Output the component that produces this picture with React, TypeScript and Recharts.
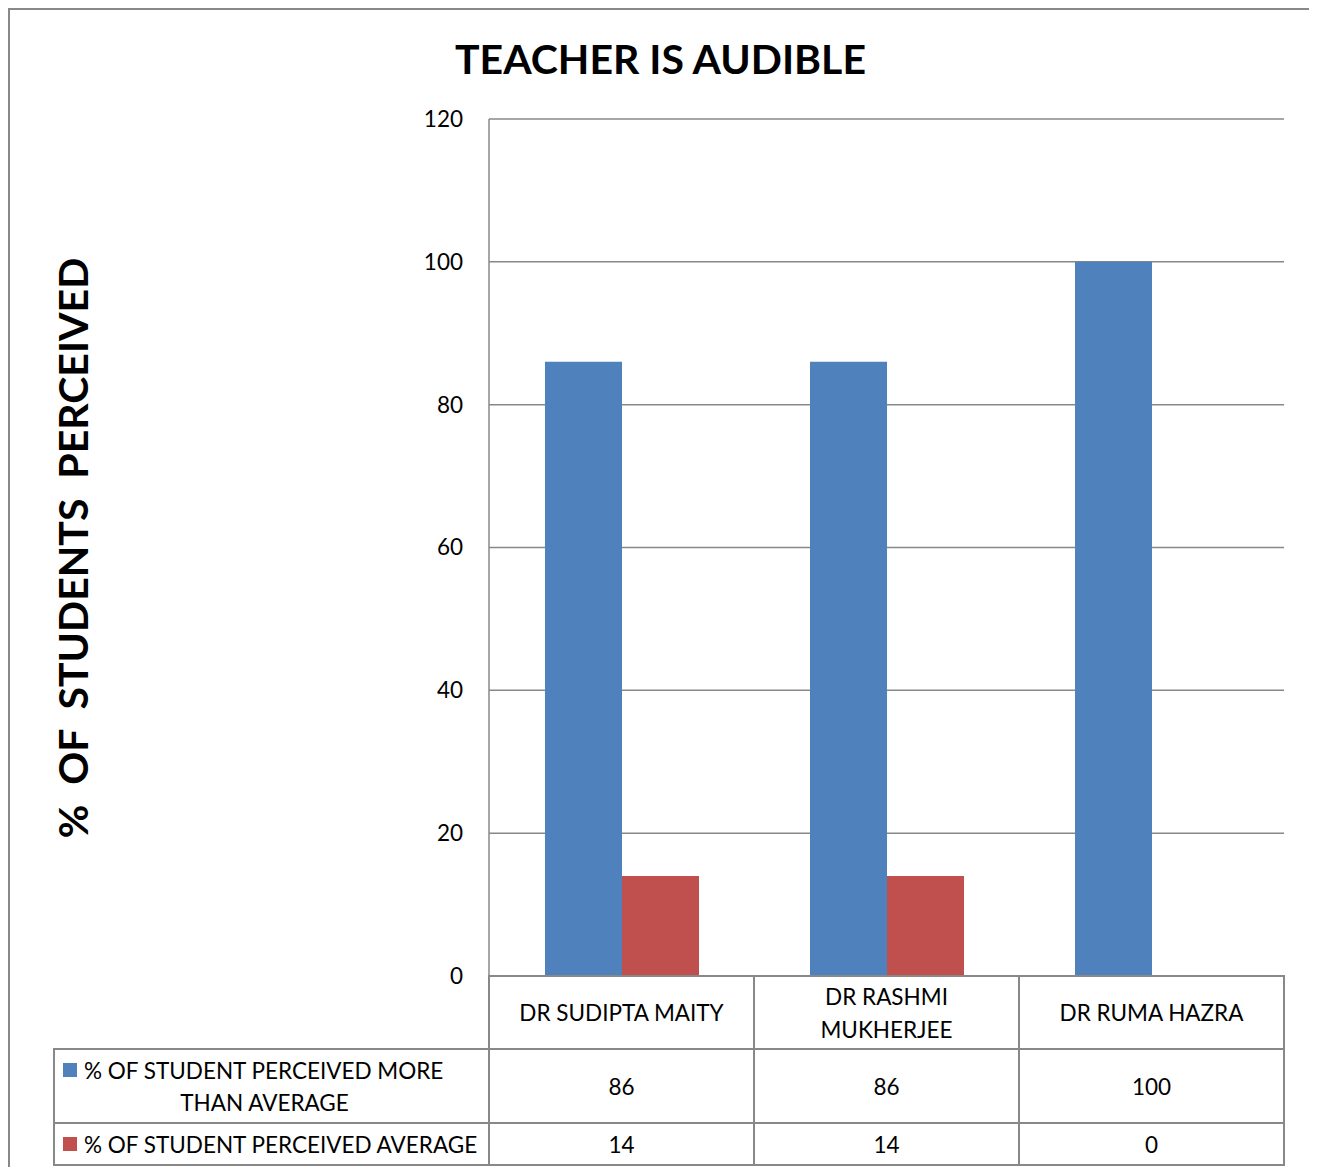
import { BarChart, Bar, XAxis, YAxis, CartesianGrid } from "recharts";

const categories = ["DR SUDIPTA MAITY", "DR RASHMI MUKHERJEE", "DR RUMA HAZRA"];
const moreThanAverage = [86, 86, 100];
const average = [14, 14, 0];
const seriesNames = ["% OF STUDENT PERCEIVED MORE THAN AVERAGE", "% OF STUDENT PERCEIVED AVERAGE"];
const seriesColors = ["#4F81BD", "#C0504D"];
const yTicks = [0, 20, 40, 60, 80, 100, 120];

const data = categories.map((name, i) => ({
  name,
  more: moreThanAverage[i],
  avg: average[i],
}));

const FONT = "Lato, 'Open Sans', sans-serif";
const GRID = "#888888";
const TABLE_FONT = 22.5;

// table geometry (below the plot)
const HEADER_H = 73;
const ROW1_H = 74;
const ROW2_H = 42;
const LEGEND_COL_W = 435;

function wrap(label: string, max = 16): string[] {
  const words = label.split(" ");
  const lines: string[] = [];
  let cur = "";
  for (const w of words) {
    const next = cur ? cur + " " + w : w;
    if (next.length > max && cur) {
      lines.push(cur);
      cur = w;
    } else cur = next;
  }
  if (cur) lines.push(cur);
  return lines;
}

function TableTick(props: any) {
  const { x, y, payload, index, width, visibleTicksCount } = props;
  const w = width / visibleTicksCount;
  const left = x - w / 2;
  const lines = wrap(payload.value);
  const lh = 33;
  const headMid = y + HEADER_H / 2;
  const r1Mid = y + HEADER_H + ROW1_H / 2;
  const r2Mid = y + HEADER_H + ROW1_H + ROW2_H / 2;
  const row = data[index];
  const txt = { fontFamily: FONT, fontSize: TABLE_FONT, fill: "#000", textAnchor: "middle" as const, dominantBaseline: "central" as const };

  return (
    <g>
      <rect x={left} y={y} width={w} height={HEADER_H} fill="none" stroke={GRID} strokeWidth={2} />
      <rect x={left} y={y + HEADER_H} width={w} height={ROW1_H} fill="none" stroke={GRID} strokeWidth={2} />
      <rect x={left} y={y + HEADER_H + ROW1_H} width={w} height={ROW2_H} fill="none" stroke={GRID} strokeWidth={2} />
      {lines.map((l, i) => (
        <text key={i} x={x} y={headMid + (i - (lines.length - 1) / 2) * lh} {...txt}>
          {l}
        </text>
      ))}
      <text x={x} y={r1Mid} {...txt}>{row.more}</text>
      <text x={x} y={r2Mid} {...txt}>{row.avg}</text>
      {index === 0 && (
        <g>
          <rect x={left - LEGEND_COL_W} y={y + HEADER_H} width={LEGEND_COL_W} height={ROW1_H} fill="none" stroke={GRID} strokeWidth={2} />
          <rect x={left - LEGEND_COL_W} y={y + HEADER_H + ROW1_H} width={LEGEND_COL_W} height={ROW2_H} fill="none" stroke={GRID} strokeWidth={2} />
          <rect x={left - LEGEND_COL_W + 9} y={r1Mid - 16 - 7} width={14} height={14} fill={seriesColors[0]} />
          <text x={left - LEGEND_COL_W + 30} y={r1Mid - 16} {...txt} textAnchor="start">
            {seriesNames[0].replace(" THAN AVERAGE", "")}
          </text>
          <text x={left - LEGEND_COL_W / 2 - 7} y={r1Mid + 16} {...txt}>THAN AVERAGE</text>
          <rect x={left - LEGEND_COL_W + 9} y={r2Mid - 7} width={14} height={14} fill={seriesColors[1]} />
          <text x={left - LEGEND_COL_W + 30} y={r2Mid} {...txt} textAnchor="start">
            {seriesNames[1]}
          </text>
        </g>
      )}
    </g>
  );
}

export default function App() {
  const W = 1301;
  const H = 1157;
  return (
    <div
      style={{
        width: 1305,
        height: 1159,
        boxSizing: "border-box",
        borderTop: `2px solid ${GRID}`,
        borderLeft: `2px solid ${GRID}`,
        borderRight: `2px solid ${GRID}`,
        position: "relative",
        background: "#fff",
      }}
    >
      <div
        style={{
          position: "absolute",
          top: 22,
          left: 0,
          width: W,
          textAlign: "center",
          fontFamily: FONT,
          fontWeight: 700,
          fontSize: 41,
          color: "#000",
          lineHeight: "54px",
        }}
      >
        TEACHER IS AUDIBLE
      </div>
      <div
        style={{
          position: "absolute",
          left: 62,
          top: 538,
          transform: "translate(-50%, -50%) rotate(-90deg)",
          fontFamily: FONT,
          fontWeight: 700,
          fontSize: 41,
          whiteSpace: "pre",
          color: "#000",
        }}
      >
        {"%  OF  STUDENTS  PERCEIVED"}
      </div>
      <BarChart
        width={W}
        height={H}
        data={data}
        margin={{ top: 109, right: 27, bottom: 0, left: 0 }}
        barCategoryGap={56}
        barGap={0}
      >
        <CartesianGrid vertical={false} stroke={GRID} strokeWidth={1.5} />
        <YAxis
          width={479}
          domain={[0, 120]}
          ticks={yTicks}
          interval={0}
          axisLine={{ stroke: GRID, strokeWidth: 1.5 }}
          tickLine={false}
          tickMargin={20}
          tick={{ fill: "#000", fontSize: 22.5, fontFamily: FONT }}
        />
        <XAxis
          dataKey="name"
          axisLine={false}
          tickLine={false}
          tickSize={0}
          tickMargin={0}
          interval={0}
          height={191}
          tick={<TableTick />}
        />
        <Bar dataKey="more" name={seriesNames[0]} fill={seriesColors[0]} isAnimationActive={false} />
        <Bar dataKey="avg" name={seriesNames[1]} fill={seriesColors[1]} isAnimationActive={false} />
      </BarChart>
    </div>
  );
}
